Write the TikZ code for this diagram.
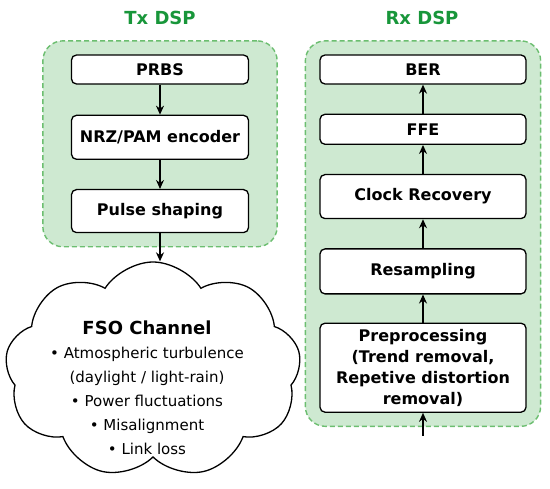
\documentclass[tikz,border=0pt]{standalone}
\usepackage{fontspec}
\setmainfont{DejaVu Sans}
\usepackage{xcolor}
\usetikzlibrary{shapes.symbols, arrows.meta, positioning, fit, backgrounds}
\definecolor{dspgreen}{RGB}{24, 150, 58}
\definecolor{groupfill}{RGB}{206, 233, 209}
\definecolor{groupline}{RGB}{108, 190, 112}

\begin{document}
\begin{tikzpicture}[
    x=1pt, y=-1pt,
    node distance=29pt,
    title/.style={font=\fontsize{18}{20}\selectfont\bfseries, text=dspgreen},
    group/.style={draw=groupline, dash pattern=on 5pt off 3pt, line width=1.4pt,
                  fill=groupfill, rounded corners=20pt},
    txbox/.style={draw, fill=white, rounded corners=5pt, line width=1.3pt,
                  minimum width=177pt, align=center,
                  font=\fontsize{16}{21}\selectfont\bfseries},
    rxbox/.style={txbox, minimum width=206pt},
    arrow/.style={-{Stealth[length=9pt, width=8pt]}, line width=1.3pt}
]
    \useasboundingbox (0,0) rectangle (550,489);

    % Tx side
    \node[title] (txtitle) at (160,18) {Tx DSP};
    \node[txbox, minimum height=29pt] (prbs) at (160,69.5) {PRBS};
    \node[txbox, minimum height=44pt, below=30pt of prbs] (nrz) {NRZ/PAM encoder};
    \node[txbox, minimum height=43pt, below=29pt of nrz] (pulse) {Pulse shaping};

    % Rx side
    \node[title] (rxtitle) at (422,18) {Rx DSP};
    \node[rxbox, minimum height=29pt] (ber) at (423,69.5) {BER};
    \node[rxbox, minimum height=30pt, below=of ber] (ffe) {FFE};
    \node[rxbox, minimum height=44pt, below=of ffe] (clock) {Clock Recovery};
    \node[rxbox, minimum height=45pt, below=of clock] (resamp) {Resampling};
    \node[rxbox, minimum height=89pt, below=28pt of resamp] (preproc)
        {Preprocessing\\(Trend removal,\\Repetive distortion\\removal)};
    \coordinate (rxin) at (423,436);

    \begin{scope}[on background layer]
        \node[group, fit=(prbs)(pulse), inner xsep=28pt, inner ysep=13.5pt] (txgroup) {};
        \node[group, fit=(ber)(preproc), inner xsep=14pt, inner ysep=13.5pt] (rxgroup) {};
    \end{scope}

    % channel
    \node[cloud, draw, line width=1.3pt, cloud puffs=9, cloud puff arc=115,
          aspect=1.4, minimum width=296pt, minimum height=216pt] (fso) at (153,370) {};
    \node[align=center, font=\fontsize{15}{24}\selectfont] (fsotext) at (147,388)
        {{\fontsize{18}{24}\selectfont\bfseries FSO Channel}\\
         • Atmospheric turbulence\\(daylight / light-rain)\\
         • Power fluctuations\\• Misalignment\\• Link loss};

    \draw[arrow] (prbs) -- (nrz);
    \draw[arrow] (nrz) -- (pulse);
    \draw[arrow] (pulse.south) -- (pulse.south |- fso.north);
    \draw[arrow] (rxin) -- (preproc);
    \draw[arrow] (preproc) -- (resamp);
    \draw[arrow] (resamp) -- (clock);
    \draw[arrow] (clock) -- (ffe);
    \draw[arrow] (ffe) -- (ber);
\end{tikzpicture}
\end{document}
